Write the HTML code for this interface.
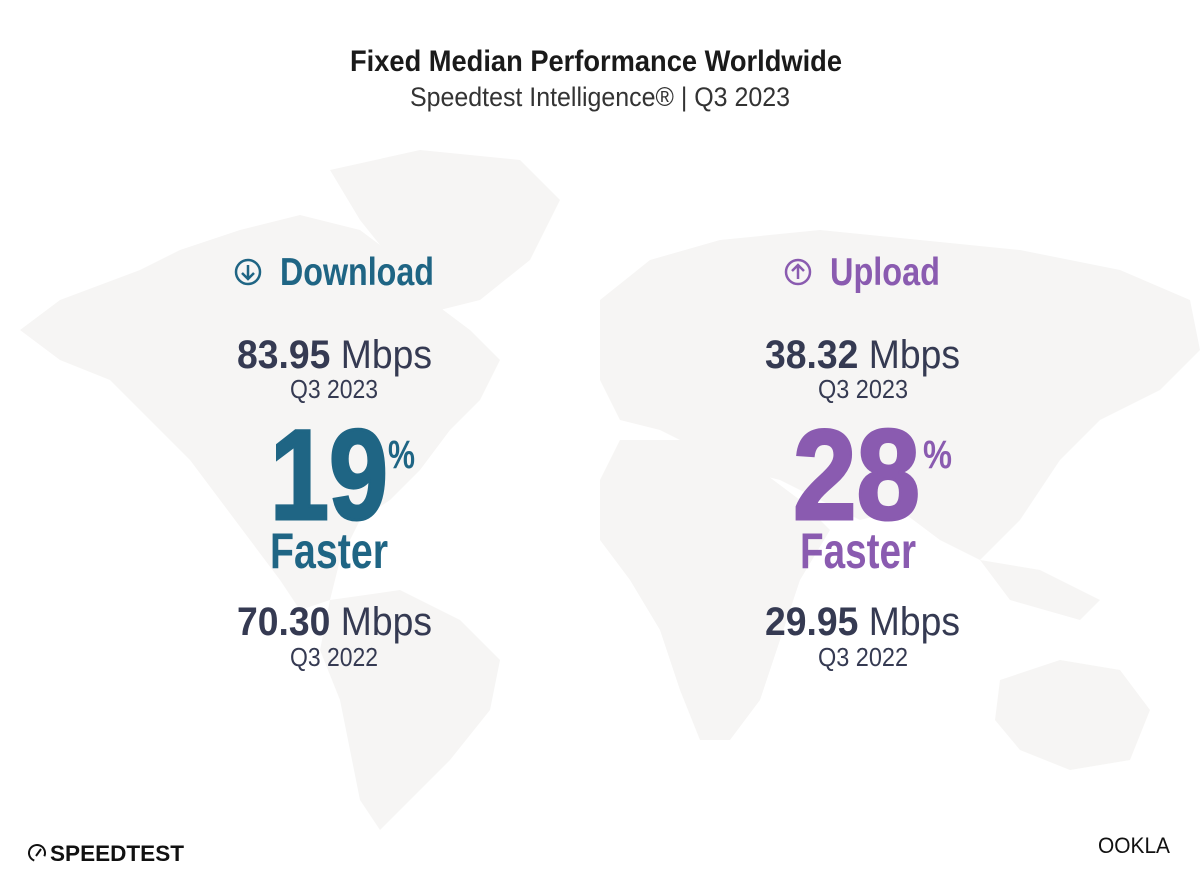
<!DOCTYPE html>
<html><head><meta charset="utf-8"><style>
html,body{margin:0;padding:0;background:#fff;}
svg{display:block;}
</style></head><body>
<svg width="1200" height="883" viewBox="0 0 1200 883" xmlns="http://www.w3.org/2000/svg" font-family="'Liberation Sans Narrow','Liberation Sans',sans-serif">
<g fill="#f6f5f4">
<path d="M20,330 L60,300 L140,270 L180,250 L240,230 L300,215 L360,230 L400,260 L430,300 L470,330 L500,360 L480,400 L450,430 L420,470 L390,500 L360,520 L340,560 L330,600 L300,610 L280,580 L250,540 L220,500 L190,460 L150,420 L110,380 L60,360 Z"/>
<path d="M330,170 L420,150 L520,160 L560,200 L530,260 L480,300 L440,310 L400,270 L360,220 Z"/>
<path d="M330,600 L400,590 L460,620 L500,660 L490,710 L450,760 L410,800 L380,830 L360,800 L350,750 L340,700 L320,650 Z"/>
<path d="M600,300 L650,260 L720,240 L820,230 L920,240 L1020,250 L1120,270 L1190,300 L1200,350 L1160,390 L1100,420 L1060,460 L1020,520 L980,560 L940,540 L900,510 L860,520 L820,500 L780,480 L740,470 L700,450 L660,430 L620,420 L600,380 Z"/>
<path d="M620,440 L700,440 L760,470 L800,500 L830,530 L800,580 L780,640 L760,700 L730,740 L700,740 L680,690 L660,630 L630,580 L600,540 L600,480 Z"/>
<path d="M980,560 L1040,570 L1100,600 L1080,620 L1010,600 Z"/>
<path d="M1000,680 L1060,660 L1120,670 L1150,710 L1130,760 L1070,770 L1020,750 L995,720 Z"/>
</g>
<text x="596" y="71" text-anchor="middle" font-size="30" font-weight="bold" fill="#1a1a1a" textLength="492" lengthAdjust="spacingAndGlyphs">Fixed Median Performance Worldwide</text>
<text x="600" y="106" text-anchor="middle" font-size="27" fill="#333" textLength="380" lengthAdjust="spacingAndGlyphs">Speedtest Intelligence® | Q3 2023</text>

<circle cx="248" cy="272" r="12" fill="none" stroke="#1f6584" stroke-width="2.5"/>
<path d="M248,265 L248,279 M242,273 L248,279 L254,273" fill="none" stroke="#1f6584" stroke-width="2.5"/>
<text x="280" y="285" font-size="39" font-weight="bold" fill="#1f6584" textLength="154" lengthAdjust="spacingAndGlyphs">Download</text>
<text x="237" y="368" font-size="40" fill="#353a52" textLength="195" lengthAdjust="spacingAndGlyphs"><tspan font-weight="bold">83.95</tspan> Mbps</text>
<text x="290" y="398" font-size="26" fill="#353a52" textLength="88" lengthAdjust="spacingAndGlyphs">Q3 2023</text>
<text x="270" y="519" font-size="128" font-weight="bold" fill="#1f6584" stroke="#1f6584" stroke-width="3" textLength="118" lengthAdjust="spacingAndGlyphs">19</text>
<text x="388" y="468" font-size="40" font-weight="bold" fill="#1f6584" textLength="27" lengthAdjust="spacingAndGlyphs">%</text>
<text x="270" y="568" font-size="50" font-weight="bold" fill="#1f6584" textLength="118" lengthAdjust="spacingAndGlyphs">Faster</text>
<text x="237" y="635" font-size="40" fill="#353a52" textLength="195" lengthAdjust="spacingAndGlyphs"><tspan font-weight="bold">70.30</tspan> Mbps</text>
<text x="290" y="666" font-size="26" fill="#353a52" textLength="88" lengthAdjust="spacingAndGlyphs">Q3 2022</text>

<circle cx="798" cy="272" r="12" fill="none" stroke="#8a5bb0" stroke-width="2.5"/>
<path d="M798,279 L798,265 M792,271 L798,265 L804,271" fill="none" stroke="#8a5bb0" stroke-width="2.5"/>
<text x="830" y="285" font-size="39" font-weight="bold" fill="#8a5bb0" textLength="110" lengthAdjust="spacingAndGlyphs">Upload</text>
<text x="765" y="368" font-size="40" fill="#353a52" textLength="195" lengthAdjust="spacingAndGlyphs"><tspan font-weight="bold">38.32</tspan> Mbps</text>
<text x="818" y="398" font-size="26" fill="#353a52" textLength="90" lengthAdjust="spacingAndGlyphs">Q3 2023</text>
<text x="793" y="519" font-size="128" font-weight="bold" fill="#8a5bb0" stroke="#8a5bb0" stroke-width="3" textLength="127" lengthAdjust="spacingAndGlyphs">28</text>
<text x="923" y="468" font-size="40" font-weight="bold" fill="#8a5bb0" textLength="29" lengthAdjust="spacingAndGlyphs">%</text>
<text x="800" y="568" font-size="50" font-weight="bold" fill="#8a5bb0" textLength="116" lengthAdjust="spacingAndGlyphs">Faster</text>
<text x="765" y="635" font-size="40" fill="#353a52" textLength="195" lengthAdjust="spacingAndGlyphs"><tspan font-weight="bold">29.95</tspan> Mbps</text>
<text x="818" y="666" font-size="26" fill="#353a52" textLength="90" lengthAdjust="spacingAndGlyphs">Q3 2022</text>

<circle cx="37" cy="853" r="8" fill="none" stroke="#111" stroke-width="2" stroke-dasharray="38 12" transform="rotate(110 37 853)"/>
<path d="M36,856 L41,849" stroke="#111" stroke-width="2"/>
<text x="50" y="861" font-size="22" font-weight="bold" fill="#111" textLength="134" lengthAdjust="spacingAndGlyphs">SPEEDTEST</text>
<text x="1098" y="853" font-size="22" fill="#111" textLength="72" lengthAdjust="spacingAndGlyphs">OOKLA</text>
</svg>
</body></html>
